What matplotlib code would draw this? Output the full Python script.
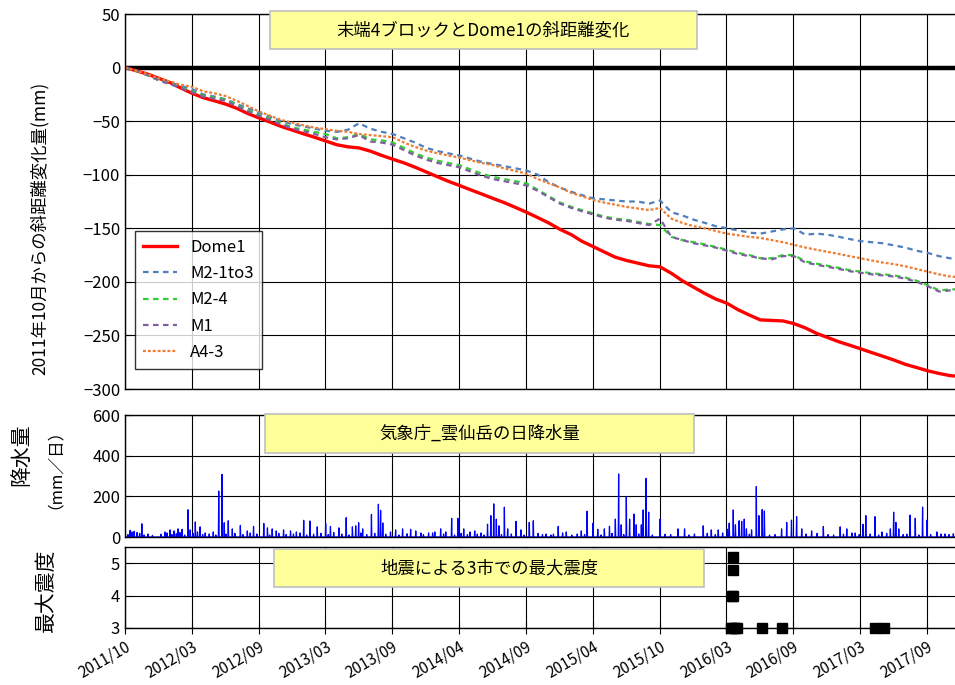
import numpy as np
import pandas as pd
import matplotlib
matplotlib.use('Agg')
import matplotlib.pyplot as plt
import matplotlib.dates as mdates
from matplotlib.patches import Rectangle

plt.rcParams['font.family'] = ['Noto Sans CJK JP', 'DejaVu Sans']

# --- data ---
start = pd.Timestamp('2011-10-01')
dates = list(pd.date_range(start, periods=75, freq='MS')) + [pd.Timestamp('2017-12-20')]

dome1 = [0, -3, -6, -10, -14, -19, -24, -28, -31, -34, -38, -43, -47, -51, -55,
         -58.5, -62, -65, -68.5, -72, -74, -75, -78, -82, -85.5, -89, -93, -97.5,
         -102, -106, -110, -114, -118, -122, -126, -130.5, -135, -140, -145, -151,
         -156, -162, -167, -172, -177, -180, -182.5, -185, -186, -192, -199, -205,
         -211, -216, -220, -226, -231, -235.5, -236, -236.5, -239, -243, -248, -252,
         -256, -259, -262.5, -266, -269.5, -273, -277, -280, -283, -285.5, -287.5, -288]
m2_1to3 = [0, -3, -7, -11, -14, -17, -20, -25, -27, -29.5, -34, -38, -42, -46, -50,
           -53, -55, -57, -59, -60, -58, -52, -57, -60, -62, -66, -70, -75, -78, -80,
           -82, -85, -88, -90, -92, -94, -96, -100, -107, -112, -116, -119, -122, -123,
           -124, -125, -125, -127, -124, -135, -138, -142, -145, -148, -150, -152, -154,
           -155, -153, -151, -150, -156, -155, -156, -158, -160, -162, -163, -164, -166,
           -168, -171, -173, -176, -178, -179]
m2_4 = [0, -3, -7, -11.5, -15, -18.5, -22, -26, -28, -30, -35, -40, -44, -48, -52,
        -56, -58, -60, -62, -66, -65, -62, -67, -68, -70, -75, -80, -84, -87, -89, -91,
        -95, -99, -102, -104, -106, -108, -114, -120, -126, -130, -133, -136, -139, -141,
        -142, -144, -146, -147, -158, -161, -163, -165, -167.5, -170, -173, -175, -178,
        -178, -175, -175, -181, -183, -185, -187, -189, -190.5, -192, -193, -194, -196,
        -199, -203, -208, -207, -207]
m1 = [0, -3, -7, -12, -15.5, -19, -23, -27, -29, -31, -36, -41, -45, -49, -53, -57,
      -59.5, -62, -65, -67, -66, -63, -69, -70, -72, -77, -82, -86, -89, -91, -93, -97,
      -101, -104, -106, -108, -110, -115, -121, -127, -131, -134, -137, -140, -142, -143,
      -145, -147, -141, -158, -161, -164, -166, -168, -171, -174, -176, -178, -179, -176,
      -176, -182, -184, -186, -188, -190, -191.5, -193, -194, -195, -197, -200, -204,
      -209, -208, -209]
a4_3 = [0, -3, -6, -10, -13, -16, -18, -22, -24, -26.5, -31, -36, -41, -45, -49, -51.5,
        -54, -56, -57.5, -59, -60, -62, -63, -64, -65, -70, -74, -77.5, -80, -82, -84,
        -86.5, -89, -91, -94, -96.5, -99, -104, -108, -112, -117, -120, -123.5, -126,
        -128, -130, -131.5, -133, -131, -141, -145, -148, -150, -152.5, -155, -156.5,
        -158, -159, -161, -163, -165.5, -168, -170, -172, -174, -176, -178, -180, -182,
        -183.5, -185.5, -188, -190.5, -193, -195, -195.5]

# daily rainfall events: day number since 2011/10/01 and mm
rain_day = [14, 19, 25, 33, 46, 63, 109, 123, 134, 145, 156, 172, 178, 192, 205, 219,
            241, 256, 265, 271, 282, 293, 315, 334, 351, 379, 389, 402, 413, 433, 452,
            468, 488, 505, 525, 548, 561, 584, 604, 621, 630, 638, 649, 673, 692, 698,
            704, 725, 739, 758, 780, 794, 808, 829, 846, 862, 876, 892, 909, 925, 942,
            955, 972, 990, 999, 1007, 1014, 1021, 1036, 1045, 1068, 1081, 1104, 1115,
            1150, 1163, 1183, 1205, 1246, 1262, 1278, 1291, 1309, 1323, 1339, 1348,
            1355, 1369, 1378, 1390, 1396, 1410, 1415, 1423, 1430, 1461, 1510, 1528,
            1579, 1601, 1620, 1645, 1650, 1661, 1667, 1677, 1684, 1691, 1697, 1711,
            1724, 1731, 1740, 1746, 1793, 1807, 1820, 1834, 1848, 1875, 1907, 1953,
            1971, 1994, 2015, 2023, 2048, 2067, 2090, 2099, 2105, 2113, 2144, 2158,
            2178, 2190, 2217, 2239,
            # smaller showers
            8, 40, 52, 75, 98, 115, 128, 140, 150, 163, 186, 198, 212, 230, 248, 276,
            300, 322, 342, 360, 395, 420, 440, 460, 478, 496, 515, 535, 555, 570, 592,
            612, 644, 660, 682, 712, 748, 770, 815, 840, 870, 900, 918, 935, 962, 980,
            1028, 1055, 1090, 1128, 1140, 1170, 1195, 1220, 1235, 1255, 1300, 1330,
            1362, 1403, 1440, 1475, 1490, 1540, 1555, 1590, 1612, 1632, 1705, 1760,
            1775, 1860, 1890, 1920, 1935, 1962, 1985, 2005, 2035, 2058, 2080, 2125,
            2135, 2168, 2200, 2228, 2250, 2262]
rain_mm = [33, 25, 28, 22, 65, 15, 25, 35, 30, 40, 38, 134, 35, 74, 50, 20, 25, 226,
           308, 70, 80, 40, 57, 30, 52, 66, 45, 40, 30, 35, 30, 25, 82, 79, 50, 66, 52,
           45, 95, 50, 55, 70, 40, 111, 161, 131, 69, 25, 35, 40, 38, 30, 20, 20, 25, 40,
           25, 92, 92, 40, 25, 30, 20, 63, 105, 163, 88, 55, 147, 40, 77, 35, 72, 80, 15,
           10, 52, 25, 30, 127, 67, 38, 40, 53, 88, 310, 60, 197, 88, 113, 60, 60, 133,
           288, 122, 88, 40, 40, 55, 35, 35, 38, 68, 133, 60, 80, 77, 88, 40, 35, 248,
           105, 135, 128, 40, 72, 83, 100, 40, 30, 52, 50, 40, 20, 63, 105, 100, 25, 40,
           122, 72, 40, 108, 92, 147, 83, 25, 15,
           12, 18, 10, 8, 14, 20, 12, 16, 22, 10, 18, 25, 12, 15, 10, 14, 18, 12, 20, 15,
           10, 18, 12, 15, 20, 10, 14, 18, 12, 22, 15, 10, 20, 12, 18, 14, 10, 16, 12,
           20, 15, 10, 18, 12, 14, 10, 12, 15, 10, 18, 12, 14, 20, 10, 15, 12, 10, 18,
           12, 15, 10, 14, 12, 10, 15, 18, 12, 20, 14, 10, 12, 15, 18, 12, 10, 14, 20,
           12, 15, 10, 18, 12, 14, 10, 12, 15, 12, 16]

# maximum seismic intensity in the three cities
eq_day = [1655, 1657, 1659, 1659, 1659, 1661, 1666, 1672, 1740, 1793, 2047, 2074]
eq_int = [3, 4, 5.2, 4.8, 4, 3, 3, 3, 3, 3, 3, 3]

tick_labels = ['2011/10', '2012/03', '2012/09', '2013/03', '2013/09', '2014/04',
               '2014/09', '2015/04', '2015/10', '2016/03', '2016/09', '2017/03',
               '2017/09']

series = [('Dome1', dome1, '#FF0000', '-', 2.4),
          ('M2-1to3', m2_1to3, '#4F7FBF', (0, (2.5, 2)), 1.6),
          ('M2-4', m2_4, '#33CC33', (0, (2.5, 2)), 1.6),
          ('M1', m1, '#7F5FA0', (0, (2.5, 2)), 1.6),
          ('A4-3', a4_3, '#ED7D31', (0, (1.3, 0.9)), 1.6)]

# --- figure ---
fig = plt.figure(figsize=(9.55, 6.85), dpi=100)
ax1 = fig.add_axes([125/955, 1-389/685, 832/955, 375/685])
ax2 = fig.add_axes([125/955, 1-537/685, 832/955, 122/685], sharex=ax1)
ax3 = fig.add_axes([125/955, 1-628/685, 832/955, 81/685], sharex=ax1)

x0 = mdates.date2num(start)
ticks = [x0 + 182.5 * k for k in range(len(tick_labels))]

for ax in (ax1, ax2, ax3):
    ax.spines['right'].set_visible(False)
    for s in ('left', 'top', 'bottom'):
        ax.spines[s].set_color('black')
        ax.spines[s].set_linewidth(1)
    ax.set_xticks(ticks)
    ax.grid(True, color='black', lw=0.8)
    ax.set_axisbelow(True)
    ax.tick_params(axis='both', labelsize=12, colors='black', direction='in', length=4)
    ax.set_xlim(x0, x0 + 2272)

# top panel
for name, vals, col, ls, lw in series:
    ax1.plot(mdates.date2num(dates), vals, color=col, ls=ls, lw=lw, label=name)
ax1.axhline(0, color='black', lw=3.2, zorder=1)
ax1.set_ylim(-300, 50)
ax1.set_yticks(np.arange(-300, 51, 50))
ax1.tick_params(axis='x', labelbottom=False, length=0)
fig.text(40/955, 1-228/685, '2011年10月からの斜距離変化量(mm)', rotation=90,
         ha='center', va='center', fontsize=12.5)
leg = ax1.legend(loc='lower left', bbox_to_anchor=(0.012, 0.053), borderaxespad=0,
                 fontsize=12, frameon=True, fancybox=False, edgecolor='black',
                 handlelength=2.0, labelspacing=0.55, borderpad=0.5)
leg.get_frame().set_linewidth(1)

# middle panel: daily rainfall
rain = np.zeros(2273)
rain[rain_day] = rain_mm
rain_x = x0 + np.arange(len(rain))
ax2.plot(rain_x, rain, color='#0000FF', lw=0.9)
ax2.set_ylim(0, 600)
ax2.set_yticks([0, 200, 400, 600])
ax2.tick_params(axis='x', labelbottom=False, length=0)

# bottom panel: seismic intensity
ax3.plot(x0 + np.array(eq_day), eq_int, 's', color='black', ms=6.5, clip_on=False, zorder=5)
ax3.set_ylim(3, 5.5)
ax3.set_yticks([3, 4, 5])
ax3.set_xticks(ticks)
ax3.set_xticklabels(tick_labels, rotation=30, ha='right', rotation_mode='anchor')
ax3.tick_params(axis='x', direction='inout', length=8, pad=3, labelsize=11)

# y labels of the two lower panels
fig.text(21/955, 1-455/685, '降水量', rotation=90, ha='center', va='center', fontsize=15)
fig.text(46/955, 1-460/685, '（mm／日）', rotation=90, ha='center', va='center', fontsize=12)
fig.text(46/955, 1-590/685, '最大震度', rotation=90, ha='center', va='center', fontsize=15)

# yellow title boxes
boxes = [(270, 11, 427, 38, '末端4ブロックとDome1の斜距離変化'),
         (265, 414, 429, 39, '気象庁_雲仙岳の日降水量'),
         (274, 549, 430, 38, '地震による3市での最大震度')]
for bx, by, bw, bh, txt in boxes:
    fig.patches.append(Rectangle((bx/955, 1-(by+bh)/685), bw/955, bh/685,
                                 transform=fig.transFigure, facecolor='#FFFF99',
                                 edgecolor='#BFBFBF', lw=1.2, zorder=10))
    fig.text((bx+bw/2)/955, 1-(by+bh/2)/685, txt, ha='center', va='center',
             fontsize=12.5, zorder=11)

fig.savefig('out.png', dpi=100)
